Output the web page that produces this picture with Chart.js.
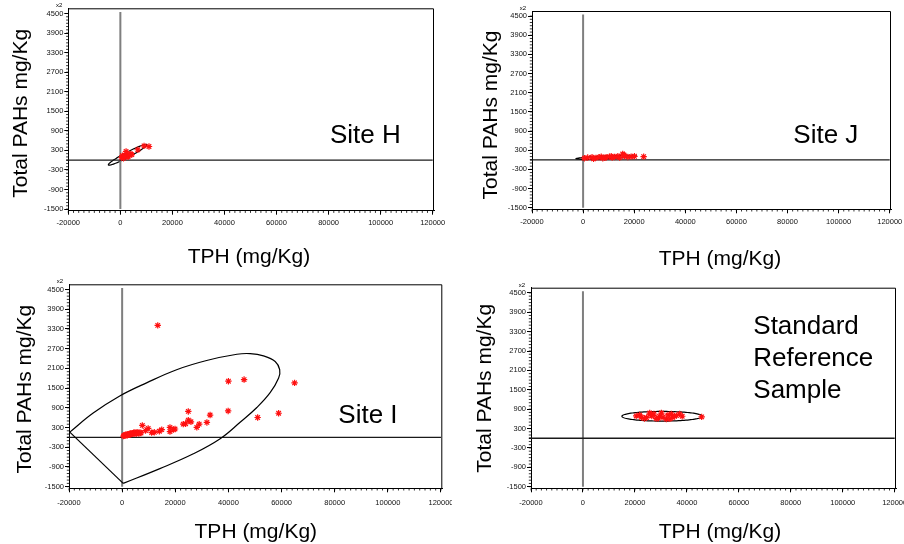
<!DOCTYPE html>
<html>
<head>
<meta charset="utf-8">
<title>TPH vs Total PAHs</title>
<script src="https://cdn.jsdelivr.net/npm/chart.js@4.4.1/dist/chart.umd.min.js"></script>
<style>
  html, body { margin: 0; padding: 0; background: #fff; overflow: hidden; }
  #wrap { position: relative; width: 904px; height: 544px; overflow: hidden; }
  #wrap canvas { position: absolute; }
</style>
</head>
<body>
<div id="wrap">
  <canvas id="site-h"></canvas>
  <canvas id="site-j"></canvas>
  <canvas id="site-i"></canvas>
  <canvas id="site-srm"></canvas>
</div>
<script>
// axis ticks and texts
var X_TICKS = [-20000, 0, 20000, 40000, 60000, 80000, 100000, 120000];
var Y_TICKS = [-1500, -900, -300, 300, 900, 1500, 2100, 2700, 3300, 3900, 4500];
var X_RANGE = [-20000, 120500];
var Y_RANGE = [-1550, 4660];
var X_TITLE = "TPH (mg/Kg)";
var Y_TITLE = "Total PAHs mg/Kg";
var Y_MULT = "x2";

// zero reference lines
var REF_V_X = [0, 0];
var REF_V_Y = [-1500, 4550];
var REF_H_X = [-20800, 120000];
var REF_H_Y = [0, 0];

// Site H
var H_TPH = [11000, 9100, 6700, 2200, 500, 800, 1000, 1200, 1500, 2000, 2500, 3000, 3000, 3500, 4000, 4400];
var H_PAH = [420, 440, 320, 270, 80, 140, 120, 60, 100, 150, 120, 180, 100, 160, 190, 170];
var H_ELLIPSE = [2750, 165, 7350, 310, 450, -70]; // centre x,y, half axis a, conjugate half axis b

// Site J
var J_TPH = [500, 1800, 3500, 4100, 5000, 6200, 7100, 7700, 8500, 9000, 10300, 11000, 11400, 12300, 13600, 14300, 15500, 16000, 16200, 17500, 18800, 20100, 23700];
var J_PAH = [50, 70, 80, 30, 60, 80, 100, 50, 60, 80, 100, 110, 70, 90, 110, 70, 180, 150, 110, 90, 100, 110, 100];
var J_ELLIPSE = [9000, 78, 11800, 45, 0, 45];

// Site I
var I_TPH = [13400, 40000, 45900, 64900, 24900, 39900, 33100, 58900, 51000, 24900, 25900, 23000, 23900, 28100, 29000, 31900,
  18000, 18000, 19900, 19300, 14900, 14000, 12100, 11100, 9800, 8800, 7600, 7100,
  500, 800, 1000, 1200, 1500, 1800, 2000, 2200, 2500, 2800, 3000, 3200, 3500, 3800, 4000, 4300, 4500, 4800, 5000, 5300, 5600, 6000, 6300, 6700];
var I_PAH = [3410, 1710, 1760, 1660, 790, 805, 680, 735, 605, 525, 475, 405, 415, 305, 405, 455,
  305, 175, 255, 240, 235, 185, 155, 145, 275, 205, 365, 135,
  40, 60, 50, 80, 70, 90, 60, 100, 80, 110, 90, 120, 100, 130, 110, 140, 120, 150, 130, 110, 160, 140, 120, 150];
var I_ARC_X = [-19700, -10900, -900, 9200, 20500, 31800, 43200, 48200, 53200, 57600, 59300, 58900, 55700, 50700, 44400, 36900, 26800, 14200, 400];
var I_ARC_Y = [160, 740, 1260, 1660, 2060, 2340, 2530, 2550, 2480, 2310, 2060, 1810, 1360, 910, 460, -40, -500, -950, -1400];
var I_CHORD_X = [-19700, 400];
var I_CHORD_Y = [160, -1400];

// Standard reference sample
var S_TPH = [20500, 21800, 22500, 23700, 24500, 25700, 26000, 26500, 27300, 28200, 29000, 29500, 30200, 30800, 32100, 32700, 33500, 34000, 34600, 35300, 36000, 37200, 38200, 45700];
var S_PAH = [690, 720, 650, 610, 640, 780, 740, 690, 750, 610, 620, 680, 780, 650, 590, 720, 600, 750, 650, 690, 700, 750, 680, 660];
var S_ELLIPSE = [30500, 680, 15500, 0, 0, 150];

var SITE_LABELS = [["Site H"], ["Site J"], ["Site I"], ["Standard", "Reference", "Sample"]];

var FONT = '"Liberation Sans", Arial, sans-serif';

var PANELS = [
  { canvas: "site-h", left: 0, top: 0, width: 452, height: 272, area: [68.3, 8.3, 434, 210.7], xPad: 4,
    yTitle: [27.4, 113.3], xTitle: [249, 263.3], label: [330, 142.7],
    tph: H_TPH, pah: H_PAH, ellipse: H_ELLIPSE, text: SITE_LABELS[0] },
  { canvas: "site-j", left: 452, top: 0, width: 452, height: 272, area: [532, 11, 891, 209.3], xPad: 4,
    yTitle: [497.4, 115], xTitle: [720, 265], label: [793.3, 142.7],
    tph: J_TPH, pah: J_PAH, ellipse: J_ELLIPSE, text: SITE_LABELS[1] },
  { canvas: "site-i", left: 0, top: 272, width: 452, height: 272, area: [69, 284.3, 442.3, 488.3], xPad: 6,
    yTitle: [30.7, 389.2], xTitle: [255.8, 538.3], label: [338.3, 422.7],
    tph: I_TPH, pah: I_PAH, arc: [I_ARC_X, I_ARC_Y], chord: [I_CHORD_X, I_CHORD_Y], text: SITE_LABELS[2] },
  { canvas: "site-srm", left: 452, top: 272, width: 452, height: 272, area: [531, 287.7, 896, 488.3], xPad: 6,
    yTitle: [490.7, 388.3], xTitle: [720, 538.3], label: [753.3, 334],
    tph: S_TPH, pah: S_PAH, ellipse: S_ELLIPSE, text: SITE_LABELS[3] }
];

function pairs(xs, ys) {
  return xs.map(function (x, i) { return { x: x, y: ys[i] }; });
}

function decorPlugin(p) {
  return {
    id: "decor",
    beforeDatasetsDraw: function (chart) {
      if (!p.ellipse) return;
      var e = p.ellipse, xs = chart.scales.x, ys = chart.scales.y, ctx = chart.ctx;
      ctx.save();
      ctx.beginPath();
      for (var i = 0; i <= 120; i++) {
        var t = i / 120 * Math.PI * 2;
        var px = xs.getPixelForValue(e[0] + e[2] * Math.cos(t) + e[4] * Math.sin(t));
        var py = ys.getPixelForValue(e[1] + e[3] * Math.cos(t) + e[5] * Math.sin(t));
        if (i === 0) ctx.moveTo(px, py); else ctx.lineTo(px, py);
      }
      ctx.closePath();
      ctx.strokeStyle = "#000";
      ctx.lineWidth = 1.2;
      ctx.stroke();
      ctx.restore();
    },
    afterDraw: function (chart) {
      var ctx = chart.ctx, a = chart.chartArea, xs = chart.scales.x, ys = chart.scales.y;
      var ox = p.left, oy = p.top, v, px, py;
      ctx.save();
      // top and right frame
      ctx.strokeStyle = "#000";
      ctx.lineWidth = 1;
      ctx.beginPath();
      ctx.moveTo(a.left, a.top + 0.5);
      ctx.lineTo(a.right - 0.5, a.top + 0.5);
      ctx.lineTo(a.right - 0.5, a.bottom);
      ctx.stroke();
      // minor ticks
      ctx.lineWidth = 0.8;
      ctx.beginPath();
      for (v = X_TICKS[0]; v <= X_TICKS[X_TICKS.length - 1]; v += 2000) {
        px = xs.getPixelForValue(v);
        ctx.moveTo(px, a.bottom);
        ctx.lineTo(px, a.bottom + 2.2);
      }
      for (v = Y_TICKS[0]; v <= Y_TICKS[Y_TICKS.length - 1]; v += 100) {
        py = ys.getPixelForValue(v);
        ctx.moveTo(a.left, py);
        ctx.lineTo(a.left - 2.2, py);
      }
      ctx.stroke();
      // multiplier over the y axis
      ctx.fillStyle = "#000";
      ctx.font = "6px " + FONT;
      ctx.textAlign = "right";
      ctx.textBaseline = "middle";
      ctx.fillText(Y_MULT, a.left - 6, ys.getPixelForValue(Y_TICKS[Y_TICKS.length - 1]) - 8);
      // axis titles
      ctx.font = "21px " + FONT;
      ctx.textBaseline = "alphabetic";
      ctx.textAlign = "center";
      ctx.fillText(X_TITLE, p.xTitle[0] - ox, p.xTitle[1] - oy);
      ctx.save();
      ctx.translate(p.yTitle[0] - ox, p.yTitle[1] - oy);
      ctx.rotate(-Math.PI / 2);
      ctx.fillText(Y_TITLE, 0, 0);
      ctx.restore();
      // site label
      ctx.font = "26px " + FONT;
      ctx.textAlign = "left";
      p.text.forEach(function (line, i) {
        ctx.fillText(line, p.label[0] - ox, p.label[1] - oy + i * 32.2);
      });
      ctx.restore();
    }
  };
}

function makePanel(p) {
  var el = document.getElementById(p.canvas);
  el.width = p.width;
  el.height = p.height;
  el.style.left = p.left + "px";
  el.style.top = p.top + "px";
  el.style.width = p.width + "px";
  el.style.height = p.height + "px";

  var datasets = [{
    data: pairs(p.tph, p.pah), pointStyle: "star", pointRadius: 3.2, pointHoverRadius: 3.2,
    pointBorderColor: "#ff1010", pointBackgroundColor: "#ff1010", pointBorderWidth: 1.2, showLine: false
  }];
  if (p.arc) {
    datasets.push({ data: pairs(p.arc[0], p.arc[1]), showLine: true, tension: 0.4, pointRadius: 0, borderColor: "#000", borderWidth: 1.2 });
    datasets.push({ data: pairs(p.chord[0], p.chord[1]), showLine: true, tension: 0, pointRadius: 0, borderColor: "#000", borderWidth: 1.2 });
  }
  datasets.push({ data: pairs(REF_H_X, REF_H_Y), showLine: true, pointRadius: 0, borderColor: "#1a1a1a", borderWidth: 1.3, clip: false });
  datasets.push({ data: pairs(REF_V_X, REF_V_Y), showLine: true, pointRadius: 0, borderColor: "#7f7f7f", borderWidth: 2 });

  var tickFont = { family: FONT, size: 7.5 };
  return new Chart(el, {
    type: "scatter",
    data: { datasets: datasets },
    options: {
      responsive: false,
      animation: false,
      devicePixelRatio: 1,
      layout: { padding: { left: 0, top: p.area[1] - p.top, right: p.left + p.width - p.area[2], bottom: 0 } },
      plugins: { legend: { display: false }, tooltip: { enabled: false } },
      scales: {
        x: {
          type: "linear", min: X_RANGE[0], max: X_RANGE[1],
          afterBuildTicks: function (s) { s.ticks = X_TICKS.map(function (v) { return { value: v }; }); },
          afterFit: function (s) { s.height = p.top + p.height - p.area[3]; s.paddingLeft = 0; s.paddingRight = 0; },
          grid: { drawOnChartArea: false, drawTicks: true, tickLength: 4, tickColor: "#000", tickWidth: 1 },
          border: { display: true, color: "#000", width: 1 },
          ticks: { font: tickFont, color: "#111", padding: p.xPad, autoSkip: false, maxRotation: 0,
            callback: function (v) { return String(v); } }
        },
        y: {
          type: "linear", min: Y_RANGE[0], max: Y_RANGE[1],
          afterBuildTicks: function (s) { s.ticks = Y_TICKS.map(function (v) { return { value: v }; }); },
          afterFit: function (s) { s.width = p.area[0] - p.left; s.paddingTop = 0; s.paddingBottom = 0; },
          grid: { drawOnChartArea: false, drawTicks: true, tickLength: 4, tickColor: "#000", tickWidth: 1 },
          border: { display: true, color: "#000", width: 1 },
          ticks: { font: tickFont, color: "#111", padding: 1, autoSkip: false,
            callback: function (v) { return String(v); } }
        }
      }
    },
    plugins: [decorPlugin(p)]
  });
}

PANELS.forEach(makePanel);
</script>
</body>
</html>
